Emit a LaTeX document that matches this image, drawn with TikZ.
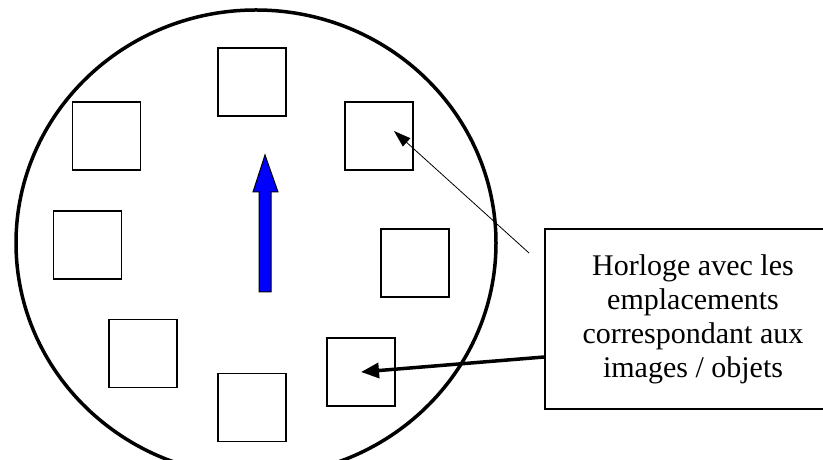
\documentclass[tikz,border=0pt]{standalone}
\usepackage{fontspec}
\setmainfont{Liberation Serif}
\usetikzlibrary{positioning,calc,arrows.meta}

\tikzset{
    slot/.style={draw, line width=1.3pt, minimum size=68pt, inner sep=0pt},
    note/.style={draw, line width=1.5pt, align=center, minimum width=296pt, minimum height=180pt,
        font=\fontsize{30}{34}\selectfont}
}

\begin{document}
\begin{tikzpicture}[x=1pt, y=1pt]
    \useasboundingbox (0,0) rectangle (823,460);
    \clip (0,0) rectangle (823,460);
    \fill [white] (0,0) rectangle (823,460);

    % Clock face
    \draw [line width=3.5pt] (256,217) ellipse [x radius=240, y radius=233];

    % Slots for the pictures
    \foreach \n/\x/\y in {1/252/378, 2/106.5/324, 3/379/324, 4/87.5/215,
                          5/415/197, 6/143/106.5, 7/361/88, 8/252/52.5} {
        \node [slot] (s\n) at (\x,\y) {};
    }

    % Hand
    \draw [fill=blue, line width=1pt, line join=miter]
        (259,168) -- (259,268) -- (253,268) -- (265,305) -- (278,268) -- (271,268) -- (271,168) -- cycle;

    % Caption
    \node [note] (legend) at (693,141) {Horloge avec les\\emplacements\\correspondant aux\\images / objets};

    \coordinate (tail) at (529,207);
    \draw [line width=0.8pt, -{Triangle[length=17pt, width=11pt]}] (tail) -- ($(s3.center)+(15,5)$);
    \draw [line width=3.5pt, -{Triangle[length=18pt, width=15pt]}] ($(legend.west)+(0,-38)$) -- (s7.center);
\end{tikzpicture}
\end{document}
